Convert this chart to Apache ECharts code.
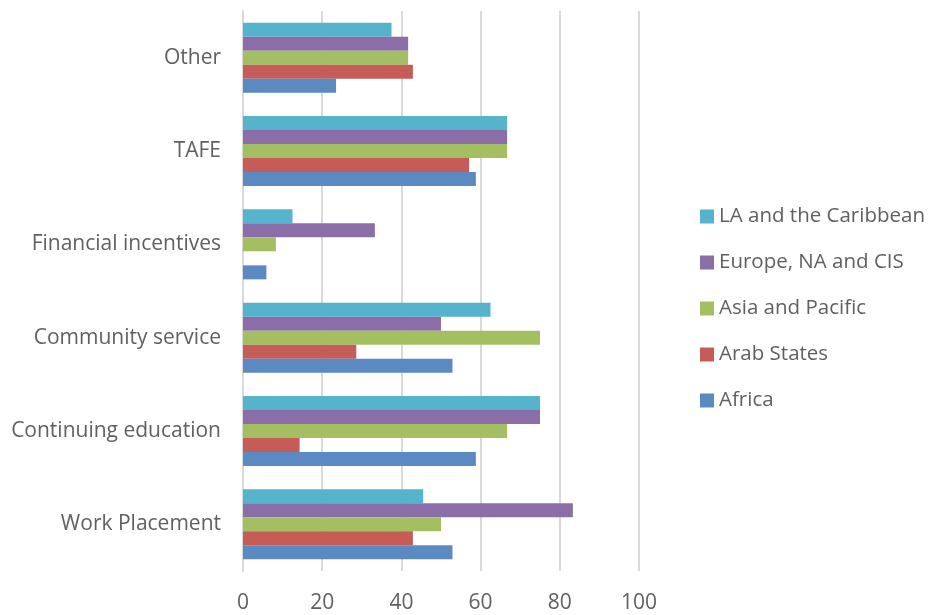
<!DOCTYPE html>
<html>
<head>
<meta charset="utf-8">
<script src="https://cdn.jsdelivr.net/npm/echarts@6/dist/echarts.min.js"></script>
<style>
  html, body { margin: 0; padding: 0; background: #fff; }
  #chart { width: 932px; height: 615px; }
</style>
</head>
<body>
<div id="chart"></div>
<script>
// categories bottom -> top
const categories = ['Work Placement', 'Continuing education', 'Community service', 'Financial incentives', 'TAFE', 'Other']
const africa = [52.9, 58.8, 52.9, 5.9, 58.8, 23.5]
const arabStates = [42.9, 14.3, 28.6, 0, 57.1, 42.9]
const asiaPacific = [50, 66.7, 75, 8.3, 66.7, 41.7]
const europeNaCis = [83.3, 75, 50, 33.3, 66.7, 41.7]
const laCaribbean = [45.5, 75, 62.5, 12.5, 66.7, 37.5]
const xTicks = [0, 20, 40, 60, 80, 100]

const font = '"Open Sans", sans-serif'
const textColor = '#606060'

const myChart = echarts.init(document.getElementById('chart'))

function bar(name, data, color) {
  return {
    name: name,
    type: 'bar',
    data: data,
    barGap: '0%',
    barCategoryGap: '25%',
    itemStyle: { color: color },
    emphasis: { disabled: true }
  }
}

const option = {
  animation: false,
  grid: {
    left: 243,
    right: 293,
    top: 11,
    bottom: 44,
    containLabel: false
  },
  legend: {
    orient: 'vertical',
    left: 695,
    top: 201,
    itemWidth: 14,
    itemHeight: 14,
    itemGap: 25,
    icon: 'rect',
    textStyle: { fontFamily: font, fontSize: 20.5, color: textColor },
    data: ['LA and the Caribbean', 'Europe, NA and CIS', 'Asia and Pacific', 'Arab States', 'Africa']
  },
  xAxis: {
    type: 'value',
    min: xTicks[0],
    max: xTicks[xTicks.length - 1],
    interval: 20,
    axisLine: { show: false },
    axisTick: { show: false },
    axisLabel: { fontFamily: font, fontSize: 21, color: textColor, margin: 22 },
    splitLine: { lineStyle: { color: '#d9d9d9', width: 2 } }
  },
  yAxis: {
    type: 'category',
    data: categories,
    axisLine: { show: true, lineStyle: { color: '#d9d9d9', width: 2 } },
    axisTick: { show: false },
    axisLabel: { fontFamily: font, fontSize: 21, color: textColor, margin: 22 }
  },
  // first series is drawn at the top of each band
  series: [
    bar('LA and the Caribbean', laCaribbean, '#55B3CC'),
    bar('Europe, NA and CIS', europeNaCis, '#8B6EA8'),
    bar('Asia and Pacific', asiaPacific, '#A4BF62'),
    bar('Arab States', arabStates, '#C55C58'),
    bar('Africa', africa, '#5B8AC3')
  ]
}

myChart.setOption(option)
</script>
</body>
</html>
